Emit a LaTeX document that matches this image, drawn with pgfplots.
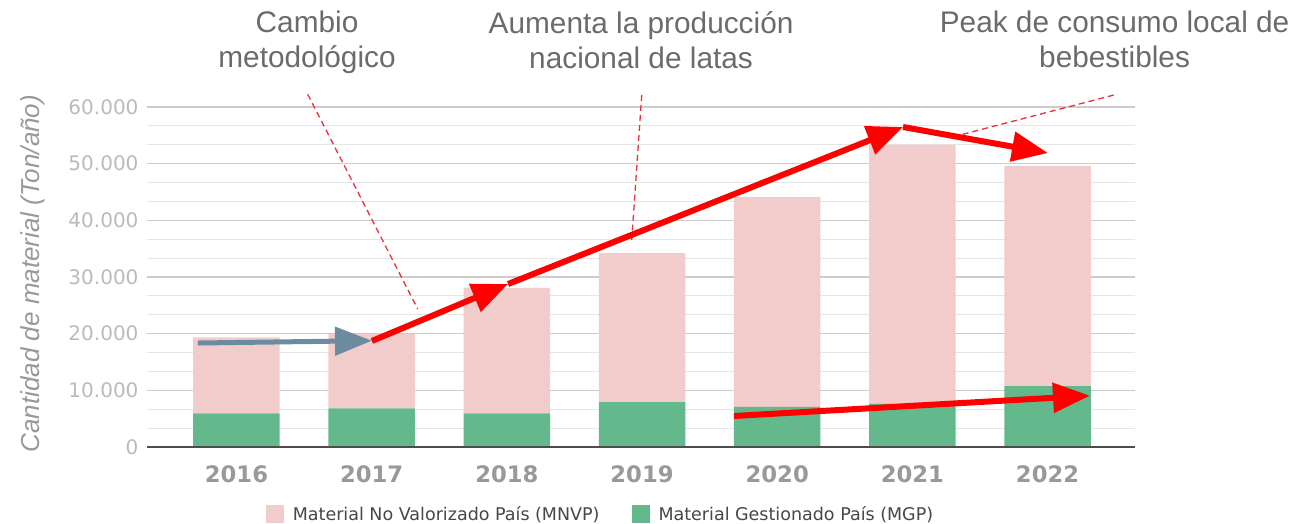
\documentclass[border=0pt]{standalone}
\usepackage{pgfplots}
\pgfplotsset{compat=1.18}
\usepackage{fontspec}
\setmainfont{Liberation Sans}
\newfontfamily\dejavu{DejaVu Sans}
\usetikzlibrary{arrows.meta}
\definecolor{pinkc}{HTML}{F2CBCB}
\definecolor{greenc}{HTML}{63B98B}
\definecolor{grayarrow}{HTML}{6B8CA0}
\definecolor{annot}{HTML}{6B6B6B}
\definecolor{dashc}{HTML}{E8303A}
\begin{document}
\begin{tikzpicture}
\path[use as bounding box] (0,0) rectangle (1291pt,524pt);
\begin{axis}[
  at={(147pt,77pt)}, anchor=south west,
  scale only axis, width=988pt, height=340pt,
  xmin=-0.662, xmax=6.647, ymin=0, ymax=60000,
  clip=false,
  ybar stacked, bar width=86.5pt,
  axis line style={draw=none},
  scaled y ticks=false,
  xtick={0,...,6},
  xticklabels={2016,2017,2018,2019,2020,2021,2022},
  xticklabel style={font=\fontsize{22.7}{22.7}\dejavu\bfseries, text=black!40, yshift=-15pt},
  ytick={0,10000,20000,30000,40000,50000,60000},
  yticklabels={0,10.000,20.000,30.000,40.000,50.000,60.000},
  yticklabel style={font=\fontsize{20}{20}\dejavu, text=black!27, xshift=-5pt},
  minor y tick num=2,
  major tick length=0pt, minor tick length=0pt,
  ymajorgrids, yminorgrids,
  major grid style={draw=black!20, line width=1.2pt},
  minor grid style={draw=black!10, line width=1.2pt},
  ylabel={\itshape Cantidad de material (Ton/año)},
  ylabel style={font=\fontsize{26}{26}\selectfont, text=black!40, at={(axis description cs:-0.1154,0.51)}, anchor=center},
  reverse legend,
  legend columns=2,
  legend style={at={(axis description cs:0.459,-0.197)}, anchor=center, draw=none,
    font=\fontsize{17.5}{17.5}\dejavu, text=black!72,
    /tikz/every odd column/.append style={column sep=7pt},
    /tikz/every even column/.append style={column sep=30pt}},
]
\addplot[draw=none, fill=greenc, legend image code/.code={\fill[greenc] (0pt,-9pt) rectangle (18pt,9pt);}]
  coordinates {(0,5950) (1,6830) (2,5950) (3,7940) (4,7060) (5,7640) (6,10760)};
\addlegendentry{Material Gestionado País (MGP)}
\addplot[draw=none, fill=pinkc, legend image code/.code={\fill[pinkc] (0pt,-9pt) rectangle (18pt,9pt);}]
  coordinates {(0,13410) (1,13120) (2,22110) (3,26260) (4,37040) (5,45660) (6,38840)};
\addlegendentry{Material No Valorizado País (MNVP)}

\coordinate (bl) at (rel axis cs:0,0);
\coordinate (br) at (rel axis cs:1,0);
\coordinate (d1a) at (axis cs:0.527,62240);
\coordinate (d1b) at (axis cs:1.341,24350);
\coordinate (d2a) at (axis cs:2.998,62120);
\coordinate (d2b) at (axis cs:2.924,36530);
\coordinate (d3a) at (axis cs:5.372,55180);
\coordinate (d3b) at (axis cs:6.492,62120);
\coordinate (g0) at (axis cs:-0.285,18350);
\coordinate (g1) at (axis cs:1.002,18760);
\coordinate (r0) at (axis cs:1.002,18710);
\coordinate (r1) at (axis cs:2.009,28760);
\coordinate (r2) at (axis cs:4.931,56470);
\coordinate (r3) at (axis cs:6.003,51880);
\coordinate (b0) at (axis cs:3.681,5470);
\coordinate (b1) at (axis cs:6.314,9050);
\coordinate (t1) at (axis cs:0.522,76940);
\coordinate (t2) at (axis cs:2.993,76940);
\coordinate (t3) at (axis cs:6.496,76940);
\end{axis}
% baseline
\draw[black!70, line width=1.5pt] (bl) -- (br);
% dashed leader lines
\draw[dashc, line width=1.3pt, dash pattern=on 6pt off 4pt] (d1a) -- (d1b);
\draw[dashc, line width=1.3pt, dash pattern=on 6pt off 4pt] (d2a) -- (d2b);
\draw[dashc, line width=1.3pt, dash pattern=on 6pt off 4pt] (d3a) -- (d3b);
% arrows
\draw[grayarrow, line width=5pt, -{Triangle[length=37pt,width=28pt]}] (g0) -- (g1);
\draw[red, line width=6pt, -{Triangle[length=36pt,width=29pt]}] (r0) -- (r1);
\draw[red, line width=6pt, -{Triangle[length=36pt,width=29pt]}] (r1) -- (r2);
\draw[red, line width=6pt, -{Triangle[length=36pt,width=29pt]}] (r2) -- (r3);
\draw[red, line width=6pt, -{Triangle[length=37pt,width=29pt]}] (b0) -- (b1);
% annotations
\node[anchor=north, align=center, inner sep=0pt, text=annot, font=\fontsize{29.8}{35}\selectfont] at (t1) {Cambio\\metodológico};
\node[anchor=north, align=center, inner sep=0pt, text=annot, font=\fontsize{29.8}{35}\selectfont] at (t2) {Aumenta la producción\\nacional de latas};
\node[anchor=north, align=center, inner sep=0pt, text=annot, font=\fontsize{29.8}{35}\selectfont] at (t3) {Peak de consumo local de\\bebestibles};
\end{tikzpicture}
\end{document}
